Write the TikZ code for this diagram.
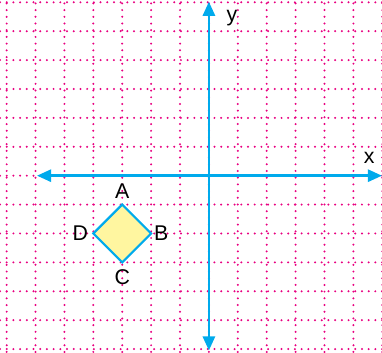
\documentclass[tikz,border=0pt]{standalone}
\usepackage{fontspec}
\setmainfont{Liberation Sans}
\usetikzlibrary{arrows.meta}
\definecolor{gridpink}{RGB}{232,0,128}
\definecolor{axisblue}{RGB}{0,170,236}
\definecolor{fillyellow}{RGB}{255,246,160}
\begin{document}
\begin{tikzpicture}[
  grid/.style={gridpink, line width=2.2pt, line cap=round, dash pattern=on 0pt off 6.6pt},
  axis/.style={axisblue, line width=2.6pt, {Triangle[length=14pt,width=12pt]}-{Triangle[length=14pt,width=12pt]}},
  square/.style={axisblue, line width=2.2pt, fill=fillyellow, line join=miter},
  lbl/.style={font=\fontsize{21}{24}\selectfont, inner sep=0pt}
]
\useasboundingbox (-7.23,-6.13) rectangle (5.99,6.08);
\foreach \x in {-7,...,6} \draw[grid] (\x,-6.1) -- (\x,6.1);
\foreach \y in {-6,...,6} \draw[grid] (-7.23,\y) -- (6.0,\y);
\coordinate (xl) at (-5.95,0);
\coordinate (xr) at (5.99,0);
\coordinate (yt) at (0,6.02);
\coordinate (yb) at (0,-6.05);
\draw[axis] (xl) -- (xr);
\draw[axis] (yb) -- (yt);
\node[lbl] (xlab) at (5.55,0.6) {x};
\node[lbl] (ylab) at (0.8,5.45) {y};
\coordinate (A) at (-3,-1);
\coordinate (B) at (-2,-2);
\coordinate (C) at (-3,-3);
\coordinate (D) at (-4,-2);
\draw[square] (A) -- (B) -- (C) -- (D) -- cycle;
\node[lbl] (la) at (-3,-0.52) {A};
\node[lbl] (lb) at (-1.65,-2) {B};
\node[lbl] (lc) at (-3,-3.5) {C};
\node[lbl] (ld) at (-4.45,-2) {D};
\end{tikzpicture}
\end{document}
